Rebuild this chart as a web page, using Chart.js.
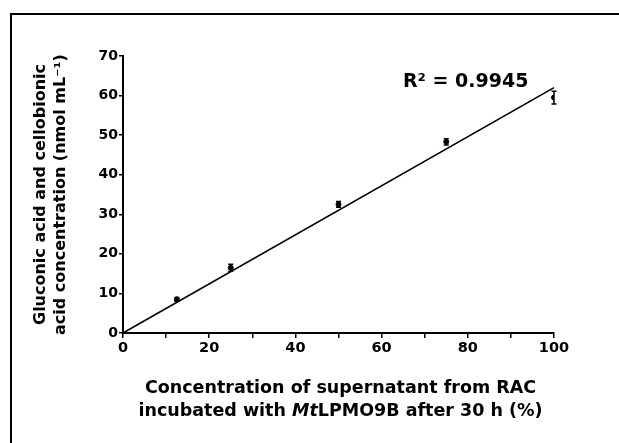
<!DOCTYPE html>
<html>
<head>
<meta charset="utf-8">
<script src="https://cdn.jsdelivr.net/npm/chart.js@4"></script>
<style>
  html, body { margin: 0; padding: 0; background: #fff; }
  #wrap { position: relative; width: 619px; height: 443px; overflow: hidden; }
  #frame { position: absolute; left: 10px; top: 13px; width: 700px; height: 500px;
           border-top: 2px solid #000; border-left: 2px solid #000; }
  canvas { position: absolute; left: 0; top: 0; }
</style>
</head>
<body>
<div id="wrap">
  <div id="frame"></div>
  <canvas id="chart" width="619" height="443"></canvas>
</div>
<script>
// measured points (supernatant %, acid nmol/mL) and error bar half-widths
const supernatant = [12.5, 25, 50, 75, 100]
const acid = [8.5, 16.5, 32.5, 48.3, 59.5]
const acidErr = [0.5, 0.9, 0.7, 0.8, 1.6]
// linear fit through origin
const fitX = [0, 100]
const fitY = [0, 62]
const r2Label = 'R\u00b2 = 0.9945'

const FONT = "'DejaVu Sans', Verdana, sans-serif"

// error bars drawn from the data through the scales
const errorBars = {
    id: 'errorBars',
    afterDatasetsDraw(chart) {
        const ctx = chart.ctx
        const xs = chart.scales.x, ys = chart.scales.y
        ctx.save()
        ctx.strokeStyle = '#000'
        ctx.lineWidth = 1.5
        supernatant.forEach((v, i) => {
            const px = xs.getPixelForValue(v)
            const top = ys.getPixelForValue(acid[i] + acidErr[i])
            const bot = ys.getPixelForValue(acid[i] - acidErr[i])
            ctx.beginPath()
            ctx.moveTo(px, top); ctx.lineTo(px, bot)
            ctx.moveTo(px - 2.5, top); ctx.lineTo(px + 2.5, top)
            ctx.moveTo(px - 2.5, bot); ctx.lineTo(px + 2.5, bot)
            ctx.stroke()
        })
        ctx.restore()
    }
}

// R² note and the x title (with italic "Mt")
const annotations = {
    id: 'annotations',
    afterDraw(chart) {
        const ctx = chart.ctx
        const xs = chart.scales.x, ys = chart.scales.y
        ctx.save()
        ctx.fillStyle = '#000'
        ctx.font = 'bold 19px ' + FONT
        ctx.textAlign = 'center'
        ctx.textBaseline = 'middle'
        ctx.fillText(r2Label, xs.getPixelForValue(79.5), ys.getPixelForValue(63.3))

        const cx = (chart.chartArea.left + chart.chartArea.right) / 2 + 2
        const f = 'bold 17.5px ' + FONT
        ctx.font = f
        ctx.fillText('Concentration of supernatant from RAC', cx, 388)
        const parts = [
            ['incubated with ', f],
            ['Mt', 'italic ' + f],
            ['LPMO9B after 30 h (%)', f]
        ]
        let total = 0
        parts.forEach(p => { ctx.font = p[1]; total += ctx.measureText(p[0]).width })
        let x = cx - total / 2
        ctx.textAlign = 'left'
        parts.forEach(p => {
            ctx.font = p[1]
            ctx.fillText(p[0], x, 411)
            x += ctx.measureText(p[0]).width
        })
        ctx.restore()
    }
}

new Chart(document.getElementById('chart'), {
    type: 'scatter',
    data: {
        datasets: [{
            label: 'fit',
            type: 'line',
            data: fitX.map((v, i) => ({x: v, y: fitY[i]})),
            borderColor: '#000',
            borderWidth: 1.6,
            pointRadius: 0,
            fill: false
        },
        {
            label: 'measured',
            data: supernatant.map((v, i) => ({x: v, y: acid[i]})),
            backgroundColor: '#000',
            borderColor: '#000',
            pointRadius: 2.5
        }]
    },
    options: {
        responsive: false,
        animation: false,
        events: [],
        layout: { padding: { left: 30, top: 56, right: 65, bottom: 80 } },
        plugins: { legend: { display: false }, tooltip: { enabled: false } },
        scales: {
            x: {
                type: 'linear',
                min: 0, max: 100,
                border: { color: '#000', width: 2 },
                grid: { drawOnChartArea: false, color: '#000', lineWidth: 1.5, tickLength: 5 },
                ticks: {
                    stepSize: 10,
                    color: '#000',
                    padding: 2,
                    maxRotation: 0,
                    font: { family: FONT, size: 14.5, weight: 'bold' },
                    callback: v => (v % 20 === 0 ? v : '')
                },
                afterFit: s => { s.height = 30 }
            },
            y: {
                min: 0, max: 70,
                border: { color: '#000', width: 2 },
                grid: { drawOnChartArea: false, color: '#000', lineWidth: 1.5, tickLength: 4 },
                ticks: {
                    stepSize: 10,
                    color: '#000',
                    padding: 1,
                    font: { family: FONT, size: 14, weight: 'bold' }
                },
                title: {
                    display: true,
                    text: ['Gluconic acid and cellobionic', 'acid concentration (nmol mL\u207b\u00b9)'],
                    color: '#000',
                    font: { family: FONT, size: 16, weight: 'bold', lineHeight: 1.3 },
                    padding: { top: 0, bottom: 0 }
                },
                afterFit: s => { s.width = 93 }
            }
        }
    },
    plugins: [errorBars, annotations]
})
</script>
</body>
</html>
